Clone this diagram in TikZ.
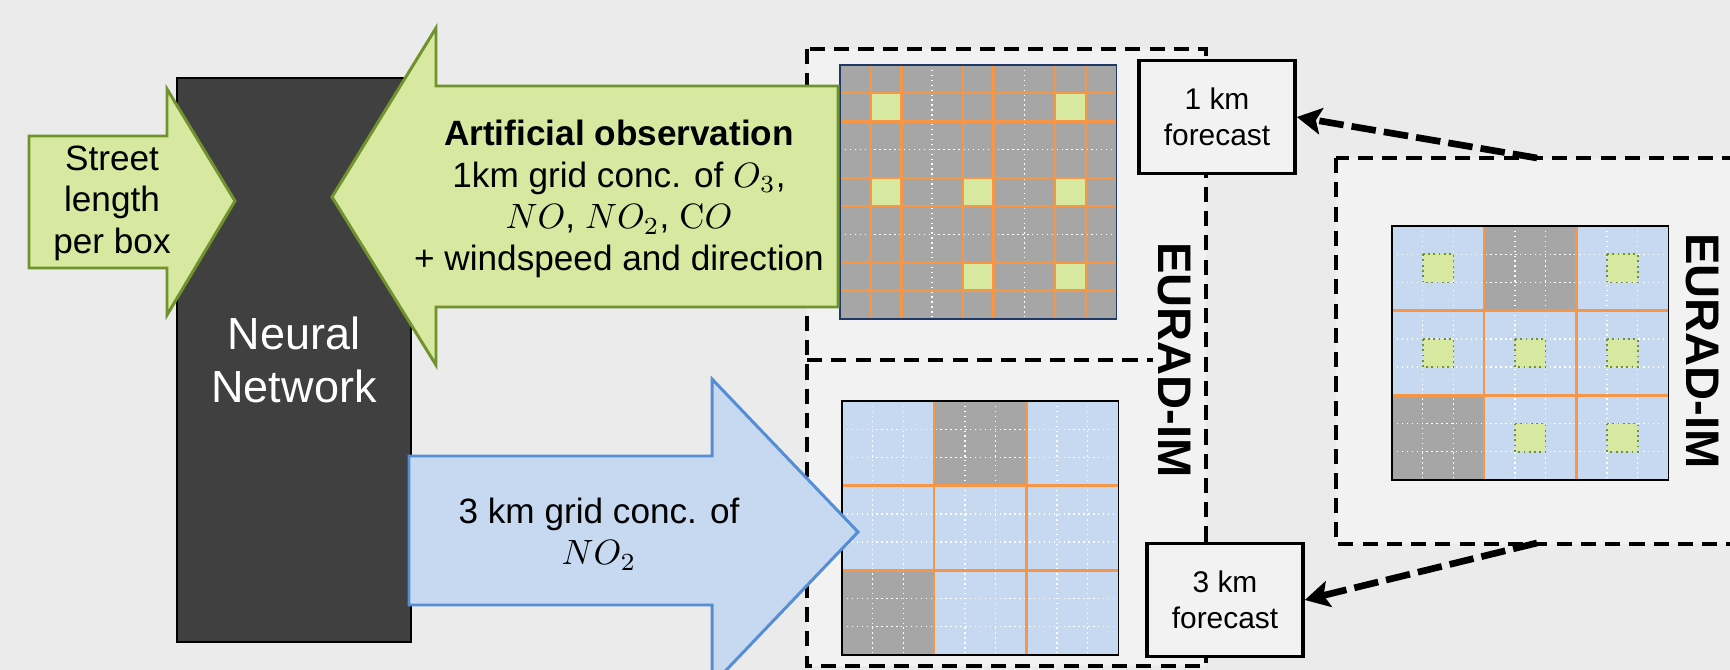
\documentclass[tikz,border=0pt]{standalone}
\usepackage[no-math]{fontspec}
\setmainfont{Liberation Sans}
\usepackage{tikz}
\usetikzlibrary{positioning}
\usetikzlibrary{arrows.meta}

\definecolor{bgGray}{HTML}{EBEBEB}
\definecolor{panelGray}{HTML}{F2F2F2}
\definecolor{netGray}{HTML}{404040}
\definecolor{cellGray}{HTML}{A6A6A6}
\definecolor{obsGreen}{HTML}{D7E9A0}
\definecolor{oliveLine}{HTML}{71932D}
\definecolor{modelBlue}{HTML}{C6D9F1}
\definecolor{blueLine}{HTML}{558ED5}
\definecolor{gridOrange}{HTML}{F79646}
\definecolor{gridNavy}{HTML}{1F3864}

\begin{document}
\begin{tikzpicture}[x=0.01cm, y=-0.01cm,
	dashpanel/.style={draw=black, fill=panelGray, line width=1.1pt, dash pattern=on 4.3pt off 2.6pt},
	dashdivider/.style={draw=black, line width=1.1pt, dash pattern=on 4.3pt off 2.6pt},
	orangeline/.style={draw=gridOrange, line width=0.7pt},
	whitedots/.style={draw=white, line width=0.4pt, densely dotted},
	greenarrow/.style={draw=oliveLine, fill=obsGreen, line width=0.85pt},
	bluearrow/.style={draw=blueLine, fill=modelBlue, line width=0.85pt},
	arrowtext/.style={align=center, font=\fontsize{10}{11.8}\selectfont},
	nnbox/.style={draw=black, fill=netGray, text=white, line width=0.6pt, minimum width=2.34cm, minimum height=5.64cm, align=center, font=\fontsize{12.8}{15.3}\selectfont},
	eurad/.style={rotate=-90, inner sep=1pt, font=\fontsize{13.4}{16}\selectfont\bfseries},
	fcbox/.style={draw=black, fill=panelGray, line width=1pt, minimum width=1.56cm, minimum height=1.13cm, align=center, font=\fontsize{8.5}{10.4}\selectfont},
	fcarrow/.style={-{Stealth[length=7pt,width=7.5pt,inset=1.5pt]}, line width=1.9pt, dash pattern=on 7pt off 2.3pt}
	]

	\useasboundingbox (0,0) rectangle (1730,670);
	\fill[bgGray] (0,0) rectangle (1730,670);

	% EURAD-IM panels
	\draw[dashpanel] (807,49) rectangle (1206,666);
	\draw[dashpanel] (1336,158) rectangle (1745,544);

	% 1 km grid
	\begin{scope}[shift={(840,65)}, x=0.307cm, y=-0.282cm]
		\fill[cellGray] (0,0) rectangle (9,9);
		\foreach \c/\r in {1/1,7/1,1/4,4/4,7/4,4/7,7/7}
			\fill[obsGreen] (\c,\r) rectangle ++(1,1);
		\foreach \i in {3,6}
			\draw[whitedots] (\i,0) -- (\i,9) (0,\i) -- (9,\i);
		\foreach \i in {1,2,4,5,7,8}
			\draw[orangeline] (\i,0) -- (\i,9) (0,\i) -- (9,\i);
		\draw[gridNavy, line width=0.4pt] (0,0) rectangle (9,9);
	\end{scope}

	% 3 km grid
	\begin{scope}[shift={(842,401)}, x=0.307cm, y=-0.282cm]
		\fill[modelBlue] (0,0) rectangle (9,9);
		\fill[cellGray] (3,0) rectangle (6,3) (0,6) rectangle (3,9);
		\foreach \i in {1,2,4,5,7,8}
			\draw[whitedots] (\i,0) -- (\i,9) (0,\i) -- (9,\i);
		\foreach \i in {3,6}
			\draw[orangeline] (\i,0) -- (\i,9) (0,\i) -- (9,\i);
		\draw[line width=0.5pt] (0,0) rectangle (9,9);
	\end{scope}

	% 3 km grid with observation points
	\begin{scope}[shift={(1392,226)}, x=0.307cm, y=-0.282cm]
		\fill[modelBlue] (0,0) rectangle (9,9);
		\fill[cellGray] (3,0) rectangle (6,3) (0,6) rectangle (3,9);
		\foreach \i in {1,2,4,5,7,8}
			\draw[whitedots] (\i,0) -- (\i,9) (0,\i) -- (9,\i);
		\foreach \c/\r in {1/1,7/1,1/4,4/4,7/4,4/7,7/7}
			\draw[fill=obsGreen, draw=oliveLine, line width=0.5pt, densely dotted] (\c,\r) rectangle ++(1,1);
		\foreach \i in {3,6}
			\draw[orangeline] (\i,0) -- (\i,9) (0,\i) -- (9,\i);
		\draw[line width=0.5pt] (0,0) rectangle (9,9);
	\end{scope}

	\node[eurad] (euradLeft) at (1174,360) {EURAD-IM};
	\draw[dashdivider] (807,360) -- (euradLeft.south);
	\node[eurad] (euradRight) at (1702,351) {EURAD-IM};

	% network and data arrows
	\node[nnbox] (nn) at (294,360) {Neural\\Network};

	\draw[greenarrow] (29,136) -- (167,136) -- (167,89) -- (235,201) -- (167,315) -- (167,268) -- (29,268) -- cycle;
	\draw[greenarrow] (838,86) -- (436,86) -- (436,28) -- (332,197) -- (436,365) -- (436,307) -- (838,307) -- cycle;
	\draw[bluearrow] (409,456) -- (712,456) -- (712,379) -- (858,532) -- (712,685) -- (712,605) -- (409,605) -- cycle;

	\node[arrowtext] (streetText) at (112,203) {Street\\length\\per box};
	\node[arrowtext] (obsText) at (619,199) {\textbf{Artificial observation}\\1km grid conc. of $O_3$,\\$NO$, $NO_2$, $\mathrm{C}O$\\+ windspeed and direction};
	\node[arrowtext] (modelText) at (599,534) {3 km grid conc. of\\$NO_2$};

	% forecasts
	\node[fcbox] (fcOne) at (1217,117) {1 km\\forecast};
	\node[fcbox] (fcThree) at (1225,600) {3 km\\forecast};

	\coordinate (rightTop) at (1537,158);
	\coordinate (rightBottom) at (1537,543);
	\draw[fcarrow] (rightTop) -- (fcOne.east);
	\draw[fcarrow] (rightBottom) -- (fcThree.east);

\end{tikzpicture}
\end{document}
